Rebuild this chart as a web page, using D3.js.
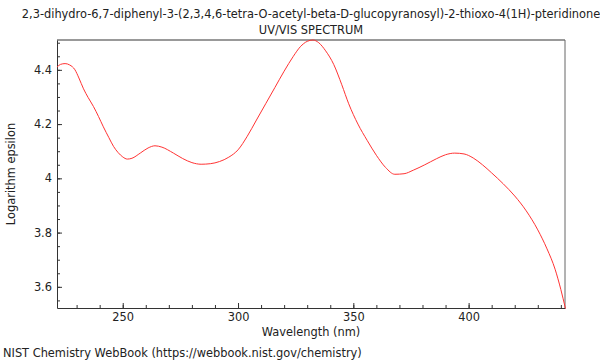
<!DOCTYPE html>
<html>
<head>
<meta charset="utf-8">
<script src="https://cdn.jsdelivr.net/npm/d3@7"></script>
<style>
  body { margin: 0; background: #fff; }
  svg { font-family: "DejaVu Sans", sans-serif; }
</style>
</head>
<body>
<div id="graph_area"></div>
<script>
// Data
const wavelength = [221.5, 223, 225, 227, 229.3, 231, 233, 235, 237.3, 239.5, 241.6, 244, 246, 248, 250, 252, 254, 257.6,
  261, 264, 267, 272, 276, 280, 284, 288, 292, 296, 300, 304, 308, 312, 316, 320, 324, 327, 330, 332.5, 335, 338, 341.5,
  345, 348, 352, 356, 360, 364, 368, 372, 376, 381, 386, 390, 394, 398, 402, 406, 410, 415, 420, 425,
  430, 434, 437.5, 440, 442];
const logEps = [4.41, 4.42, 4.423, 4.418, 4.40, 4.37, 4.33, 4.298, 4.265, 4.228, 4.19, 4.15, 4.118, 4.095, 4.079, 4.071, 4.074, 4.093,
  4.112, 4.12, 4.115, 4.093, 4.073, 4.058, 4.052, 4.054, 4.062, 4.078, 4.105, 4.155, 4.215, 4.275, 4.335, 4.395, 4.45, 4.485, 4.505, 4.51, 4.5, 4.47, 4.42,
  4.345, 4.275, 4.2, 4.14, 4.085, 4.04, 4.015, 4.017, 4.03, 4.05, 4.072, 4.087, 4.093, 4.09, 4.075, 4.05, 4.02, 3.98, 3.935, 3.88,
  3.81, 3.74, 3.665, 3.59, 3.52];
const xTicks = [250, 300, 350, 400];
const yTicks = [3.6, 3.8, 4, 4.2, 4.4];
const titleLines = ['2,3-dihydro-6,7-diphenyl-3-(2,3,4,6-tetra-O-acetyl-beta-D-glucopyranosyl)-2-thioxo-4(1H)-pteridinone', 'UV/VIS SPECTRUM'];

// Draw area values
const margin = { top: 40, right: 35, bottom: 52, left: 57 };
const width = 600 - margin.left - margin.right;
const height = 360 - margin.top - margin.bottom;
const fs = 11.4;

const root = d3.select('#graph_area')
  .append('svg')
    .attr('width', 600)
    .attr('height', 360);

const svg = root.append('g')
  .attr('transform', `translate(${margin.left},${margin.top})`);

const plotdata = wavelength.map((w, i) => ({ xval: w, yval: logEps[i] }));

const x = d3.scaleLinear().domain([221.5, 441.8]).range([0, width]);
const y = d3.scaleLinear().domain([3.522, 4.51]).range([height, 0]);

// Frame (top and right)
svg.append('line').attr('x1', 0).attr('x2', width).attr('y1', 0).attr('y2', 0)
  .attr('stroke', '#999').attr('stroke-width', 2);
svg.append('line').attr('x1', width).attr('x2', width).attr('y1', 0).attr('y2', height)
  .attr('stroke', '#666').attr('stroke-width', 1);

// Minor ticks
svg.append('g')
  .attr('transform', `translate(0,${height})`)
  .call(d3.axisBottom(x).tickValues(d3.range(230, 441, 10)).tickSize(-3).tickFormat(''))
  .call(g => g.select('.domain').remove());
svg.append('g')
  .call(d3.axisLeft(y).tickValues(d3.range(3.55, 4.51, 0.05)).tickSize(-3).tickFormat(''))
  .call(g => g.select('.domain').remove());

// X axis
svg.append('g')
  .attr('transform', `translate(0,${height})`)
  .call(d3.axisBottom(x).tickValues(xTicks).tickSize(-5).tickPadding(5).tickSizeOuter(0))
  .call(g => g.selectAll('text').attr('font-size', fs).attr('fill', '#222').attr('font-family', 'DejaVu Sans'));

// Y axis
svg.append('g')
  .call(d3.axisLeft(y).tickValues(yTicks).tickSize(-5).tickPadding(5).tickSizeOuter(0).tickFormat(d3.format('')))
  .call(g => g.selectAll('text').attr('font-size', fs).attr('fill', '#222').attr('font-family', 'DejaVu Sans'));

svg.selectAll('.domain').attr('stroke', '#333');
svg.selectAll('.tick line').attr('stroke', '#333');

// Line
svg.append('path')
  .datum(plotdata)
  .attr('fill', 'none')
  .attr('stroke', '#ff3333')
  .attr('stroke-width', 1)
  .attr('d', d3.line()
    .curve(d3.curveMonotoneX)
    .x(d => x(d.xval))
    .y(d => y(d.yval)));

// Titles
root.selectAll('.title')
  .data(titleLines)
  .enter().append('text')
    .attr('x', margin.left + width / 2)
    .attr('y', (d, i) => 18 + i * 16)
    .attr('text-anchor', 'middle')
    .attr('font-size', fs)
    .attr('fill', '#222')
    .text(d => d);

// Axis labels
root.append('text')
  .attr('x', margin.left + width / 2)
  .attr('y', 336)
  .attr('text-anchor', 'middle')
  .attr('font-size', fs)
  .attr('fill', '#222')
  .text('Wavelength (nm)');

root.append('text')
  .attr('transform', `translate(15,${margin.top + height / 2}) rotate(-90)`)
  .attr('text-anchor', 'middle')
  .attr('font-size', fs)
  .attr('fill', '#222')
  .text('Logarithm epsilon');

root.append('text')
  .attr('x', 3)
  .attr('y', 357)
  .attr('font-size', fs)
  .attr('fill', '#222')
  .text('NIST Chemistry WebBook (https://webbook.nist.gov/chemistry)');
</script>
</body>
</html>
